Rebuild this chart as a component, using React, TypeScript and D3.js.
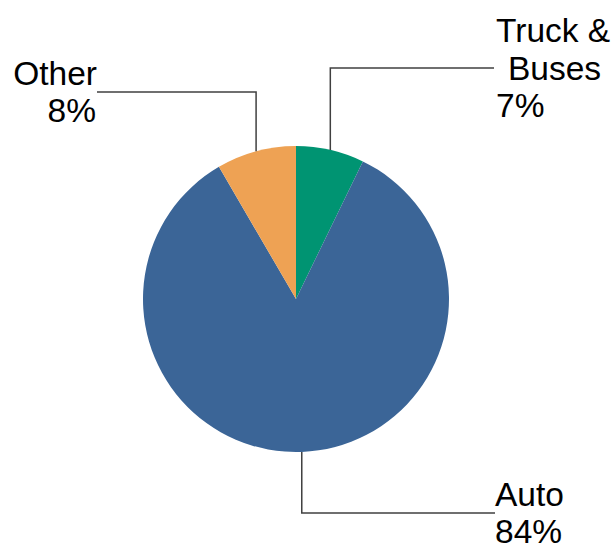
import React from "react";
import * as d3 from "d3";

const categories = ["Truck & Buses", "Auto", "Other"];
const values = [7.2, 84.4, 8.4];
const pctLabels = ["7%", "84%", "8%"];
const colors = ["#009472", "#3b6597", "#eea254"];

const W = 614;
const H = 544;
const cx = 296;
const cy = 299;
const R = 153;
const FONT = "'Liberation Sans', Arial, sans-serif";

export default function App() {
  const pie = d3.pie<number>().sort(null).value((d) => d)(values);
  const arc = d3.arc<d3.PieArcDatum<number>>().innerRadius(0).outerRadius(R);

  const layout: { ly: number; lx: number; lines: [string, number, number, string][] }[] = [
    {
      ly: 68,
      lx: 494,
      lines: [
        ["Truck &", 496, 42, "start"],
        ["Buses", 508, 80, "start"],
        [pctLabels[0], 496, 117, "start"],
      ],
    },
    {
      ly: 513,
      lx: 495,
      lines: [
        ["Auto", 495, 506, "start"],
        [pctLabels[1], 495, 543, "start"],
      ],
    },
    {
      ly: 92,
      lx: 97,
      lines: [
        ["Other", 97, 85, "end"],
        [pctLabels[2], 96, 122, "end"],
      ],
    },
  ];

  return (
    <svg
      width={W}
      height={H}
      style={{ position: "absolute", left: 0, top: 0, background: "#fff" }}
    >
      <g transform={`translate(${cx},${cy})`}>
        {pie.map((p, i) => (
          <path key={categories[i]} d={arc(p) || ""} fill={colors[i]} />
        ))}
      </g>
      {pie.map((p, i) => {
        const mid = (p.startAngle + p.endAngle) / 2;
        const px = cx + R * Math.sin(mid);
        const py = cy - R * Math.cos(mid);
        const L = layout[i];
        return (
          <g key={"lbl" + i}>
            <polyline
              points={`${px},${py} ${px},${L.ly} ${L.lx},${L.ly}`}
              fill="none"
              stroke="#404040"
              strokeWidth={1.5}
            />
            {L.lines.map(([t, x, y, a], j) => (
              <text
                key={j}
                x={x}
                y={y}
                textAnchor={a as any}
                fontFamily={FONT}
                fontSize={33.5}
                fill="#000"
              >
                {t}
              </text>
            ))}
          </g>
        );
      })}
    </svg>
  );
}
